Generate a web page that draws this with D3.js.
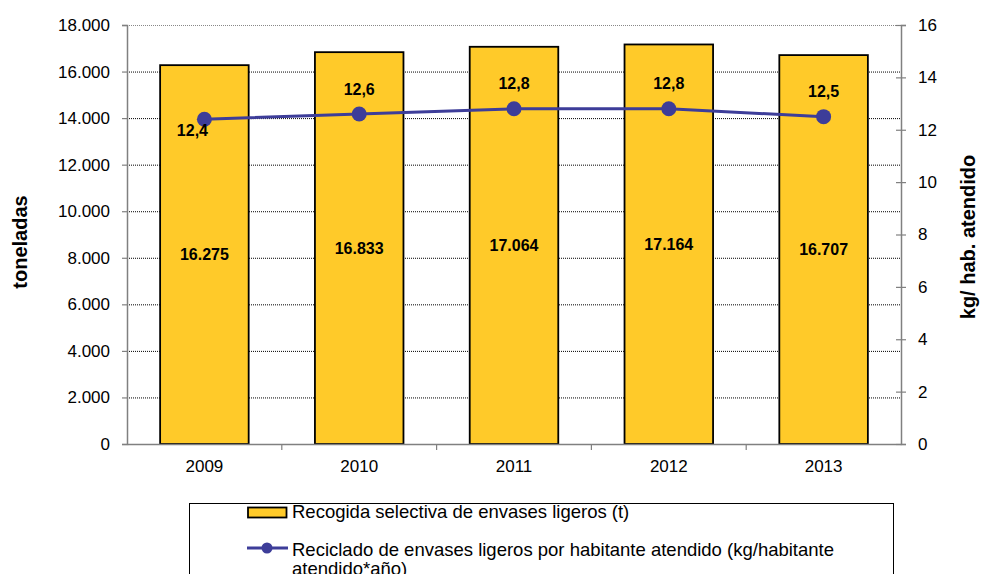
<!DOCTYPE html>
<html><head><meta charset="utf-8">
<script src="https://cdn.jsdelivr.net/npm/d3@7"></script>
<style>body{margin:0;background:#fff}svg{display:block;font-family:"Liberation Sans",Arial,sans-serif}</style>
</head><body><svg id="c" width="988" height="574"></svg>
<script>
const years = ["2009","2010","2011","2012","2013"];
const tonnes = [16275, 16833, 17064, 17164, 16707];
const kgPerHab = [12.4, 12.6, 12.8, 12.8, 12.5];
const leftTicks = [0,2000,4000,6000,8000,10000,12000,14000,16000,18000];
const rightTicks = [0,2,4,6,8,10,12,14,16];
const legendLabels = ["Recogida selectiva de envases ligeros (t)", "Reciclado de envases ligeros por habitante atendido (kg/habitante", "atendido*año)"];

const svg = d3.select("#c");
const L=127, R=901, T=25, B=444;
const x = d3.scaleBand().domain(years).range([L,R]).paddingInner(0).paddingOuter(0);
const yL = d3.scaleLinear().domain([0,18000]).range([B,T]);
const yR = d3.scaleLinear().domain([0,16]).range([B,T]);
const fmtT = d => d3.format(",")(d).replace(/,/g,".");
const fmtK = d => d3.format(".1f")(d).replace(".",",");
const barW = x.bandwidth()*0.572;
const cx = d => x(d)+x.bandwidth()/2;
const BLUE = "#3D3D99", YEL = "#FFCA29";

// gridlines
svg.append("g").selectAll("line").data(leftTicks.filter(d=>d>0)).join("line")
  .attr("x1",L).attr("x2",R).attr("y1",d=>yL(d)+0.5).attr("y2",d=>yL(d)+0.5)
  .attr("stroke",d=>d===18000?"#888":"#000").attr("stroke-width",1).attr("stroke-dasharray","1,1");

// bars
svg.append("g").selectAll("rect").data(tonnes).join("rect")
  .attr("x",(d,i)=>cx(years[i])-barW/2).attr("width",barW)
  .attr("y",d=>yL(d)).attr("height",d=>B-yL(d))
  .attr("fill",YEL).attr("stroke","#000").attr("stroke-width",1.8);

// axes
const gl = svg.append("g").attr("transform",`translate(${L},0)`)
  .call(d3.axisLeft(yL).tickValues(leftTicks).tickFormat(fmtT).tickSize(5).tickPadding(12));
const gr = svg.append("g").attr("transform",`translate(${R},0)`)
  .call(d3.axisRight(yR).tickValues(rightTicks).tickSize(5).tickPadding(12));
gr.selectAll(".tick line").attr("x1",-5);
const gb = svg.append("g").attr("transform",`translate(0,${B})`)
  .call(d3.axisBottom(x).tickSize(0).tickPadding(16));
[gl,gr,gb].forEach(g=>{
  g.select(".domain").attr("stroke","#808080").attr("stroke-width",1.5);
  g.selectAll(".tick line").attr("stroke","#808080").attr("stroke-width",1.2);
  g.selectAll("text").attr("font-size",17).attr("fill","#000").attr("font-family","Liberation Sans, Arial, sans-serif");
});
// category boundary ticks
svg.append("g").selectAll("line").data(years.slice(1)).join("line")
  .attr("x1",d=>x(d)).attr("x2",d=>x(d)).attr("y1",B).attr("y2",B+6)
  .attr("stroke","#808080").attr("stroke-width",1.2);

// bar labels
svg.append("g").selectAll("text").data(tonnes).join("text")
  .attr("x",(d,i)=>cx(years[i])).attr("y",d=>(yL(d)+B)/2).attr("dy","0.35em")
  .attr("text-anchor","middle").attr("font-weight","bold").attr("font-size",16).text(fmtT);

// line
const line = d3.line().x((d,i)=>cx(years[i])).y(d=>yR(d));
svg.append("path").datum(kgPerHab).attr("d",line).attr("fill","none").attr("stroke",BLUE).attr("stroke-width",3);
svg.append("g").selectAll("circle").data(kgPerHab).join("circle")
  .attr("cx",(d,i)=>cx(years[i])).attr("cy",d=>yR(d)).attr("r",7.5).attr("fill",BLUE);
svg.append("g").selectAll("text").data(kgPerHab).join("text")
  .attr("x",(d,i)=>cx(years[i])-(i===0?12:0)).attr("y",(d,i)=>i===0?yR(d)+11:yR(d)-25).attr("dy","0.35em")
  .attr("text-anchor","middle").attr("font-weight","bold").attr("font-size",16).text(fmtK);

// axis titles
svg.append("text").attr("transform","translate(20,242) rotate(-90)").attr("text-anchor","middle").attr("dy","0.35em")
  .attr("font-weight","bold").attr("font-size",20).text("toneladas");
svg.append("text").attr("transform","translate(968,237) rotate(-90)").attr("text-anchor","middle").attr("dy","0.35em")
  .attr("font-weight","bold").attr("font-size",20).text("kg/ hab. atendido");

// legend
const lg = svg.append("g");
lg.append("rect").attr("x",189.5).attr("y",503.5).attr("width",704).attr("height",90).attr("fill","#fff").attr("stroke","#000").attr("stroke-width",1);
lg.append("rect").attr("x",248).attr("y",507.5).attr("width",38.5).attr("height",10).attr("fill",YEL).attr("stroke","#000").attr("stroke-width",1.8);
lg.append("line").attr("x1",247).attr("x2",288).attr("y1",548).attr("y2",548).attr("stroke",BLUE).attr("stroke-width",3);
lg.append("circle").attr("cx",267).attr("cy",548).attr("r",5.5).attr("fill",BLUE);
lg.selectAll("text.l").data(legendLabels).join("text").attr("class","l")
  .attr("x",292).attr("y",(d,i)=>[517.5,555.5,574.5][i]).attr("font-size",18.5).text(d=>d);
</script></body></html>
